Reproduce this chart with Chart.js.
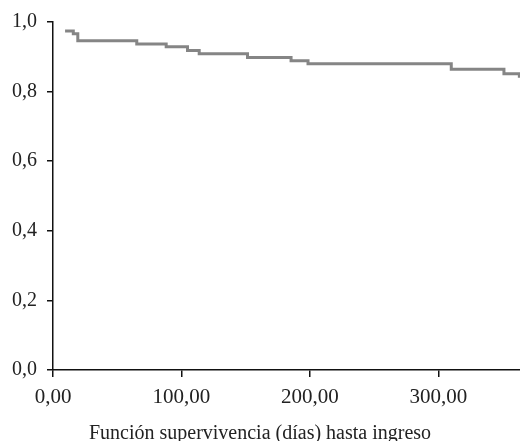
<!DOCTYPE html>
<html>
<head>
<meta charset="utf-8">
<script src="https://cdn.jsdelivr.net/npm/chart.js@4"></script>
<style>
    html, body { margin: 0; padding: 0; background: #fff; }
    #wrap { width: 520px; height: 441px; }
</style>
</head>
<body>
<div id="wrap"><canvas id="graficaSupervivencia"></canvas></div>
<script>
// tiempos (días) y supervivencia acumulada
const dias = [9.4, 15.8, 19.3, 65.2, 88.1, 104.7, 113.8, 151.4, 185.3, 198.5, 310.0, 351.0, 363.0];
const supervivencia = [0.974, 0.966, 0.946, 0.937, 0.929, 0.918, 0.909, 0.898, 0.889, 0.880, 0.864, 0.851, 0.840];
const ticksX = [0, 100, 200, 300];
const ticksY = [0, 0.2, 0.4, 0.6, 0.8, 1.0];
const tituloX = 'Función supervivencia (días) hasta ingreso';

const fuente = "'Liberation Serif', 'DejaVu Serif', serif";

// el título del eje va centrado en el lienzo, no en el área del gráfico
const tituloCentrado = {
    id: 'tituloCentrado',
    afterDraw(chart) {
        const c = chart.ctx;
        c.save();
        c.font = '20px ' + fuente;
        c.fillStyle = '#222';
        c.textAlign = 'center';
        c.textBaseline = 'alphabetic';
        c.fillText(tituloX, chart.width / 2, 438.5);
        c.restore();
    }
};

document.addEventListener('DOMContentLoaded', function () {
    const ctx = document.getElementById('graficaSupervivencia').getContext('2d');
    const puntos = dias.map((d, i) => ({ x: d, y: supervivencia[i] }));

    new Chart(ctx, {
        type: 'line',
        data: {
            datasets: [{
                data: puntos,
                borderColor: '#858585',
                borderWidth: 3,
                stepped: 'before',
                pointRadius: 0,
                fill: false
            }]
        },
        options: {
            responsive: true,
            maintainAspectRatio: false,
            animation: false,
            layout: { padding: { top: 20, right: 0, left: 0, bottom: 0 } },
            plugins: {
                legend: { display: false },
                tooltip: { enabled: false }
            },
            scales: {
                x: {
                    type: 'linear',
                    min: 0,
                    max: 363.5,
                    afterBuildTicks: function (scale) {
                        scale.ticks = ticksX.map(v => ({ value: v }));
                    },
                    afterFit: function (scale) { scale.height = 71; },
                    border: { display: true, color: '#111', width: 1.5 },
                    grid: {
                        drawOnChartArea: false,
                        drawTicks: true,
                        tickLength: 7,
                        color: '#111',
                        lineWidth: 1.5
                    },
                    ticks: {
                        color: '#222',
                        padding: 8,
                        maxRotation: 0,
                        font: { family: fuente, size: 21 },
                        callback: v => v.toFixed(2).replace('.', ',')
                    }
                },
                y: {
                    min: 0,
                    max: 1,
                    afterBuildTicks: function (scale) {
                        scale.ticks = ticksY.map(v => ({ value: v }));
                    },
                    afterFit: function (scale) { scale.width = 53; },
                    border: { display: true, color: '#111', width: 1.5 },
                    grid: {
                        drawOnChartArea: false,
                        drawTicks: true,
                        tickLength: 6,
                        color: '#111',
                        lineWidth: 1.5
                    },
                    ticks: {
                        color: '#222',
                        padding: 10,
                        font: { family: fuente, size: 20 },
                        callback: v => v.toFixed(1).replace('.', ',')
                    }
                }
            }
        },
        plugins: [tituloCentrado]
    });
});
</script>
</body>
</html>
